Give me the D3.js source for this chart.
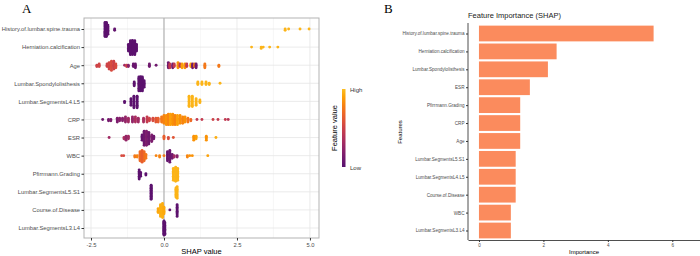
<!DOCTYPE html>
<html>
<head>
<meta charset="utf-8">
<script src="https://cdn.jsdelivr.net/npm/d3@7"></script>
<style>
  body { margin: 0; background: #fff; }
  svg { display: block; font-family: "Liberation Sans", Arial, sans-serif; }
</style>
</head>
<body>
<svg id="chart" width="700" height="256"></svg>
<script>
// features in plotted order (top to bottom)
var featuresA = ["History.of.lumbar.spine.trauma", "Herniation.calcification", "Age",
  "Lumbar.Spondylolisthesis", "Lumbar.SegmentsL4.L5", "CRP", "ESR", "WBC",
  "Pfirrmann.Grading", "Lumbar.SegmentsL5.S1", "Course.of.Disease", "Lumbar.SegmentsL3.L4"];

// SHAP groups per feature: [shap value, scaled feature value, number of cases]
var shapHistory = [[-2.02,0.02,14],[-1.97,0.02,16],[-1.92,0.03,8],[-1.69,0.05,2],
  [4.15,0.97,2],[4.27,0.97,1],[4.66,0.97,1],[4.97,0.97,1]];
var shapHerniation = [[-1.22,0.02,6],[-1.15,0.02,14],[-1.08,0.02,16],[-1.0,0.02,14],[-0.94,0.02,6],
  [3.0,0.97,1],[3.33,0.97,2],[3.4,0.97,1],[3.62,0.97,1],[3.9,0.97,1]];
var shapAge = [[-2.3,0.5,2],[-2.22,0.52,3],[-1.95,0.5,3],[-1.88,0.52,6],[-1.8,0.55,8],[-1.72,0.5,7],
  [-1.65,0.55,4],[-1.35,0.3,1],[-1.28,0.5,2],[-1.22,0.2,2],[-1.05,0.08,3],[-0.98,0.08,4],[-0.5,0.1,3],
  [-0.27,0.1,1],[0.15,0.1,5],[0.2,0.45,4],[0.3,0.1,4],[0.35,0.45,3],[0.48,0.85,5],[0.55,0.45,3],
  [0.62,0.9,4],[0.72,0.85,4],[0.78,0.45,3],[0.92,0.9,3],[0.98,0.1,4],[1.05,0.75,3],[1.1,0.1,4],
  [1.4,0.75,4],[1.88,0.75,2]];
var shapSpondy = [[-1.02,0.02,4],[-0.86,0.02,12],[-0.8,0.02,14],[-0.74,0.02,12],[-0.68,0.02,6],
  [1.16,0.97,3],[1.3,0.97,3],[1.44,0.97,3],[1.55,0.97,2],[1.92,0.97,1]];
var shapL4L5 = [[-1.35,0.02,2],[-1.13,0.02,6],[-1.03,0.02,10],[-0.92,0.02,10],
  [0.86,0.97,9],[0.97,0.97,9],[1.1,0.97,6],[1.23,0.97,3]];
var shapCRP = [[-2.1,0.1,1],[-1.9,0.12,2],[-1.82,0.15,2],[-1.6,0.15,4],[-1.52,0.2,3],[-1.42,0.2,3],
  [-1.32,0.25,5],[-1.22,0.3,4],[-1.08,0.25,5],[-0.98,0.35,5],[-0.88,0.3,4],[-0.7,0.35,4],
  [-0.58,0.45,5],[-0.5,0.5,3],[-0.38,0.55,3],[-0.28,0.6,4],[-0.2,0.65,4],[-0.08,0.75,5],
  [0.0,0.8,7],[0.08,0.85,8],[0.15,0.8,9],[0.22,0.9,9],[0.3,0.85,9],[0.38,0.8,8],[0.46,0.9,8],
  [0.55,0.85,7],[0.64,0.8,6],[0.72,0.85,5],[0.82,0.75,4],[0.92,0.7,2],[1.13,0.45,1],[1.3,0.45,1],
  [1.68,0.5,1],[1.85,0.45,1],[2.1,0.45,1],[2.2,0.4,1]];
var shapESR = [[-1.88,0.3,1],[-1.37,0.35,2],[-1.3,0.25,4],[-1.22,0.3,3],[-0.75,0.05,5],
  [-0.68,0.1,12],[-0.6,0.15,12],[-0.52,0.1,10],[-0.42,0.15,6],[-0.35,0.1,3],[0.0,0.65,3],
  [0.15,0.55,2],[0.32,0.6,1],[1.02,0.85,4],[1.1,0.9,3],[1.45,0.85,4],[1.78,0.95,1]];
var shapWBC = [[-1.45,0.55,1],[-1.38,0.55,1],[-1.0,0.75,2],[-0.92,0.8,2],[-0.82,0.7,8],
  [-0.75,0.65,10],[-0.68,0.7,8],[-0.62,0.75,4],[-0.27,0.8,1],[-0.15,0.8,2],[0.0,0.75,1],
  [0.12,0.05,8],[0.2,0.08,10],[0.28,0.1,4],[0.35,0.3,2],[0.45,0.2,2],[0.8,0.8,2],[0.88,0.85,1],
  [0.97,0.85,1],[1.5,0.9,1]];
var shapPfirrmann = [[-0.85,0.02,8],[-0.8,0.02,4],[-0.62,0.02,2],[0.32,0.97,10],[0.4,0.97,14],[0.47,0.97,10]];
var shapL5S1 = [[-0.44,0.02,20],[0.41,0.97,8],[0.45,0.97,10]];
var shapCourse = [[-0.2,0.93,4],[-0.12,0.95,10],[-0.05,0.95,12],[0.0,0.93,6],[0.2,0.05,1],[0.45,0.03,10]];
var shapL3L4 = [[0.0,0.02,25],[0.03,0.02,10]];

var shapGroups = [shapHistory, shapHerniation, shapAge, shapSpondy, shapL4L5, shapCRP,
  shapESR, shapWBC, shapPfirrmann, shapL5S1, shapCourse, shapL3L4];

var shapTicks = [-2.5, 0, 2.5, 5];
var shapMinor = [-1.25, 1.25, 3.75];

// panel B: mean |SHAP| importance
var featuresB = ["History.of.lumbar.spine.trauma", "Herniation.calcification", "Lumbar.Spondylolisthesis",
  "ESR", "Pfirrmann.Grading", "CRP", "Age", "Lumbar.SegmentsL5.S1", "Lumbar.SegmentsL4.L5",
  "Course.of.Disease", "WBC", "Lumbar.SegmentsL3.L4"];
var importance = [5.42, 2.41, 2.14, 1.58, 1.28, 1.28, 1.28, 1.14, 1.14, 1.14, 0.99, 0.99];
var importanceTicks = [0, 2, 4, 6];

var svg = d3.select("#chart");

// ---------- panel A: beeswarm ----------
var pa = { left: 84, right: 319, top: 18, bottom: 238 };

var x = d3.scaleLinear().domain([-2.74, 5.31]).range([pa.left, pa.right]);
var y = d3.scalePoint().domain(featuresA).range([29, 228]);
var color = function(v) { return d3.interpolateInferno(0.25 + 0.6 * v); };

var gA = svg.append("g");

// grid
gA.selectAll(".minor").data(shapMinor).enter().append("line")
  .attr("x1", d => x(d)).attr("x2", d => x(d))
  .attr("y1", pa.top).attr("y2", pa.bottom)
  .attr("stroke", "#f2f2f2").attr("stroke-width", 0.6);
gA.selectAll(".major").data(shapTicks).enter().append("line")
  .attr("x1", d => x(d)).attr("x2", d => x(d))
  .attr("y1", pa.top).attr("y2", pa.bottom)
  .attr("stroke", "#e6e6e6").attr("stroke-width", 0.8);
gA.selectAll(".hgrid").data(featuresA).enter().append("line")
  .attr("x1", pa.left).attr("x2", pa.right)
  .attr("y1", d => y(d)).attr("y2", d => y(d))
  .attr("stroke", "#e6e6e6").attr("stroke-width", 0.8);

// zero line
gA.append("line")
  .attr("x1", x(0)).attr("x2", x(0))
  .attr("y1", pa.top).attr("y2", pa.bottom)
  .attr("stroke", "#a9a9a9").attr("stroke-width", 1);

// build points, stacking cases of a group vertically
function offset(n, i) {
  var d = Math.min(1.3, 14 / Math.max(n - 1, 1));
  var k = Math.ceil(i / 2) * (i % 2 ? 1 : -1);
  return k * d;
}
var points = [];
shapGroups.forEach(function(groups, fi) {
  groups.forEach(function(g) {
    for (var i = 0; i < g[2]; i++) {
      points.push({ feature: featuresA[fi], shap: g[0], value: g[1], dy: offset(g[2], i) });
    }
  });
});

gA.selectAll("circle").data(points).enter().append("circle")
  .attr("cx", d => x(d.shap))
  .attr("cy", d => y(d.feature) + d.dy)
  .attr("r", 1.45)
  .attr("fill", d => color(d.value));

// border
gA.append("rect")
  .attr("x", pa.left).attr("y", pa.top)
  .attr("width", pa.right - pa.left).attr("height", pa.bottom - pa.top)
  .attr("fill", "none").attr("stroke", "#b3b3b3").attr("stroke-width", 1);

// axes
var xAxisA = gA.append("g")
  .attr("transform", `translate(0,${pa.bottom})`)
  .call(d3.axisBottom(x).tickValues(shapTicks).tickSize(2.5).tickPadding(2).tickFormat(d3.format(".1f")));
var yAxisA = gA.append("g")
  .attr("transform", `translate(${pa.left},0)`)
  .call(d3.axisLeft(y).tickSize(2.5).tickPadding(1.5));
[xAxisA, yAxisA].forEach(function(a) {
  a.select(".domain").remove();
  a.selectAll("line").attr("stroke", "#333");
  a.selectAll("text").attr("fill", "#4d4d4d").style("font-size", "5.8px");
});
xAxisA.selectAll("text").text(d => d3.format(".1f")(d).replace("−", "-"));

gA.append("text")
  .attr("x", (pa.left + pa.right) / 2).attr("y", 254)
  .attr("text-anchor", "middle").style("font-size", "7.5px").attr("fill", "#000")
  .text("SHAP value");

// colour bar legend
var defs = svg.append("defs");
var grad = defs.append("linearGradient").attr("id", "fv")
  .attr("x1", 0).attr("x2", 0).attr("y1", 1).attr("y2", 0);
d3.range(0, 1.01, 0.1).forEach(function(t) {
  grad.append("stop").attr("offset", t).attr("stop-color", color(t));
});
svg.append("rect")
  .attr("x", 342).attr("y", 89).attr("width", 3.5).attr("height", 78)
  .attr("fill", "url(#fv)");
svg.append("text").attr("x", 350).attr("y", 92).style("font-size", "6px").attr("fill", "#333").text("High");
svg.append("text").attr("x", 350).attr("y", 170).style("font-size", "6px").attr("fill", "#333").text("Low");
svg.append("text")
  .attr("transform", "translate(337,128) rotate(-90)")
  .attr("text-anchor", "middle").style("font-size", "7.5px").attr("fill", "#000")
  .text("Feature value");

svg.append("text").attr("x", 22).attr("y", 13)
  .style("font-family", "'Liberation Serif', 'Times New Roman', serif").style("font-size", "13px")
  .text("A");

// ---------- panel B: importance bars ----------
var xb = d3.scaleLinear().domain([-0.34, 6.86]).range([468, 700]);
var yb = d3.scalePoint().domain(featuresB).range([33.5, 230.5]);
var barH = yb.step() * 0.88;

var gB = svg.append("g");

gB.selectAll("rect").data(featuresB).enter().append("rect")
  .attr("x", xb(0))
  .attr("y", d => yb(d) - barH / 2)
  .attr("width", (d, i) => xb(importance[i]) - xb(0))
  .attr("height", barH)
  .attr("fill", "#fb8b5d");

var xAxisB = gB.append("g")
  .attr("transform", "translate(0,240)")
  .call(d3.axisBottom(xb).tickValues(importanceTicks).tickSize(2).tickPadding(2).tickSizeOuter(0));
var yAxisB = gB.append("g")
  .attr("transform", "translate(468,0)")
  .call(d3.axisLeft(yb).tickSize(2).tickPadding(1.5));
yAxisB.select(".domain").attr("d", "M0,23V240");
[xAxisB, yAxisB].forEach(function(a) {
  a.select(".domain").attr("stroke", "#222").attr("stroke-width", 0.8);
  a.selectAll(".tick line").attr("stroke", "#333");
  a.selectAll("text").attr("fill", "#4d4d4d").style("font-size", "4.6px");
});

gB.append("text").attr("x", 584).attr("y", 254)
  .attr("text-anchor", "middle").style("font-size", "6px").attr("fill", "#000")
  .text("Importance");
gB.append("text")
  .attr("transform", "translate(402,132) rotate(-90)")
  .attr("text-anchor", "middle").style("font-size", "6px").attr("fill", "#000")
  .text("Features");
gB.append("text").attr("x", 468).attr("y", 18)
  .style("font-size", "7.5px").attr("fill", "#222")
  .text("Feature Importance (SHAP)");

svg.append("text").attr("x", 384).attr("y", 13)
  .style("font-family", "'Liberation Serif', 'Times New Roman', serif").style("font-size", "13px")
  .text("B");
</script>
</body>
</html>
